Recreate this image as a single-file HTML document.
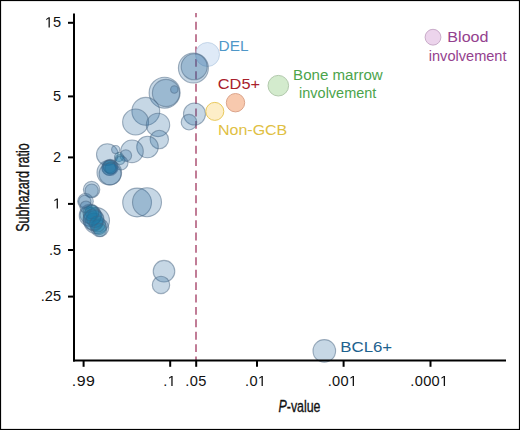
<!DOCTYPE html>
<html><head><meta charset="utf-8"><style>
html,body{margin:0;padding:0;background:#fff;}
body{width:520px;height:430px;overflow:hidden;}
svg{display:block;}
text{font-family:"Liberation Sans",sans-serif;}
</style></head><body>
<svg width="520" height="430" viewBox="0 0 520 430">
<rect x="0" y="0" width="520" height="430" fill="#fff"/>
<rect x="0.5" y="0.5" width="519" height="429" fill="none" stroke="#000" stroke-width="1.2"/>
<line x1="196" y1="13" x2="196" y2="360" stroke="#ad5274" stroke-width="1.5" stroke-dasharray="7.9 4.5" stroke-dashoffset="3.65"/>
<circle cx="207.5" cy="54.5" r="12" fill="#c9dcf2" fill-opacity="0.6" stroke="#a9c2dc" stroke-opacity="0.6" stroke-width="1"/>
<g fill="#23649b" fill-opacity="0.26" stroke="#4a6682" stroke-opacity="0.5" stroke-width="1.1">
<circle cx="193.4" cy="68" r="15"/><circle cx="194.2" cy="66.8" r="13"/><circle cx="164.6" cy="92.7" r="15.5"/><circle cx="166" cy="93" r="13.6"/><circle cx="174.3" cy="89.5" r="3.7"/><circle cx="194.5" cy="114" r="11"/><circle cx="189" cy="122.2" r="7.8"/><circle cx="145.8" cy="111.3" r="13.9"/><circle cx="135.6" cy="122" r="13"/><circle cx="158" cy="124.9" r="11.7"/><circle cx="159.3" cy="139.5" r="9.2"/><circle cx="147.5" cy="147" r="10.8"/><circle cx="132" cy="151.3" r="11.3"/><circle cx="107.3" cy="154.6" r="10.8"/><circle cx="115.7" cy="149.6" r="4.1"/><circle cx="125.8" cy="155.5" r="5.8"/><circle cx="119" cy="157" r="4.5" fill="#0a7aa8"/><circle cx="120" cy="159.5" r="5" fill="#0a7aa8"/><circle cx="121" cy="163" r="7"/><circle cx="110.1" cy="167.4" r="8"/><circle cx="109.5" cy="166.5" r="6.5" fill="#0a7aa8"/><circle cx="111" cy="168" r="6" fill="#0a7aa8"/><circle cx="110.5" cy="167" r="7" fill="#0a7aa8"/><circle cx="109" cy="168" r="7.2" fill="#0a7aa8"/><circle cx="109.3" cy="172.6" r="12.3"/><circle cx="110.1" cy="173.9" r="11"/><circle cx="91.6" cy="189.6" r="8.2"/><circle cx="91.7" cy="190.6" r="6.6"/><circle cx="85.5" cy="201.3" r="7.8"/><circle cx="84.8" cy="201.5" r="6.2"/><circle cx="90.2" cy="215.4" r="11"/><circle cx="96.5" cy="220.6" r="13"/><circle cx="88.4" cy="214.9" r="8.3" fill="#0a7aa8"/><circle cx="92" cy="212" r="7" fill="#0a7aa8"/><circle cx="94" cy="222" r="9" fill="#0a7aa8"/><circle cx="99.7" cy="227.7" r="9"/><circle cx="99.2" cy="227.3" r="7.3" fill="#0a7aa8"/><circle cx="86" cy="207" r="6"/><circle cx="92.5" cy="216" r="9" fill="#0a7aa8"/><circle cx="95" cy="219" r="8.5" fill="#0a7aa8"/><circle cx="91" cy="213" r="8" fill="#0a7aa8"/><circle cx="97.5" cy="224" r="8" fill="#0a7aa8"/><circle cx="93.5" cy="219.5" r="10.5"/><circle cx="100" cy="230" r="6.5" fill="#0a7aa8"/><circle cx="137.1" cy="202.5" r="14.4"/><circle cx="147" cy="202.2" r="14.5"/><circle cx="164" cy="271.2" r="10.8"/><circle cx="161" cy="284.9" r="8.7"/><circle cx="324.3" cy="350.9" r="11.3"/>
</g>
<circle cx="214.8" cy="111.4" r="9" fill="#fdeec8" stroke="#e9c95c" stroke-width="1"/><circle cx="235.5" cy="102.7" r="9.2" fill="#f8c9ae" stroke="#dca58c" stroke-width="1"/><circle cx="278.3" cy="85.7" r="10.3" fill="#d3ebcd" stroke="#b2c9ac" stroke-width="1"/><circle cx="433" cy="37.2" r="7.9" fill="#ecd4ec" stroke="#c9abc9" stroke-width="1"/>
<g stroke="#000" stroke-width="2">
<line x1="74" y1="13.5" x2="74" y2="361.5"/>
<line x1="73" y1="360.5" x2="506" y2="360.5"/>
<line x1="68" y1="22.8" x2="74" y2="22.8"/><line x1="68" y1="96.4" x2="74" y2="96.4"/><line x1="68" y1="157.4" x2="74" y2="157.4"/><line x1="68" y1="203.9" x2="74" y2="203.9"/><line x1="68" y1="250" x2="74" y2="250"/><line x1="68" y1="296.6" x2="74" y2="296.6"/><line x1="83.6" y1="360" x2="83.6" y2="366.8"/><line x1="170.2" y1="360" x2="170.2" y2="366.8"/><line x1="196.2" y1="360" x2="196.2" y2="366.8"/><line x1="257" y1="360" x2="257" y2="366.8"/><line x1="343.6" y1="360" x2="343.6" y2="366.8"/><line x1="430.5" y1="360" x2="430.5" y2="366.8"/>
</g>
<g font-size="14.6" fill="#111">
<text class="tk" x="61.1" y="27.4" text-anchor="end"> 5</text><text class="tk" x="61.1" y="101.0" text-anchor="end">5</text><text class="tk" x="61.1" y="162.0" text-anchor="end">2</text><text class="tk" x="61.1" y="208.5" text-anchor="end"> </text><text class="tk" x="61.1" y="254.6" text-anchor="end">.5</text><text class="tk" x="61.1" y="301.20000000000005" text-anchor="end">.25</text><text class="tk" transform="translate(83.5,386) scale(1.09,1)" text-anchor="middle" letter-spacing="0.35">.99</text><text class="tk" transform="translate(169.7,386) scale(1.0,1)" text-anchor="middle" letter-spacing="0.35">. </text><text class="tk" transform="translate(195.99999999999997,386) scale(1.0,1)" text-anchor="middle" letter-spacing="0.35">.05</text><text class="tk" transform="translate(255.7,386) scale(1.0,1)" text-anchor="middle" letter-spacing="0.35">.0 </text><text class="tk" transform="translate(342.6,386) scale(1.0,1)" text-anchor="middle" letter-spacing="0.35">.00 </text><text class="tk" transform="translate(429.4,386) scale(1.0,1)" text-anchor="middle" letter-spacing="0.35">.000 </text>
</g>
<g fill="#111"><path transform=" translate(44.866,27.400) scale(0.007129,-0.007129)" d="M515 0L515 1237L197 1010L197 1180L530 1409L696 1409L696 0Z"/><path transform=" translate(52.975,208.500) scale(0.007129,-0.007129)" d="M515 0L515 1237L197 1010L197 1180L530 1409L696 1409L696 0Z"/><path transform="translate(169.7,386) scale(1.0,1) translate(-2.047,0.000) scale(0.007129,-0.007129)" d="M515 0L515 1237L197 1010L197 1180L530 1409L696 1409L696 0Z"/><path transform="translate(255.7,386) scale(1.0,1) translate(2.188,0.000) scale(0.007129,-0.007129)" d="M515 0L515 1237L197 1010L197 1180L530 1409L696 1409L696 0Z"/><path transform="translate(342.6,386) scale(1.0,1) translate(6.422,0.000) scale(0.007129,-0.007129)" d="M515 0L515 1237L197 1010L197 1180L530 1409L696 1409L696 0Z"/><path transform="translate(429.4,386) scale(1.0,1) translate(10.656,0.000) scale(0.007129,-0.007129)" d="M515 0L515 1237L197 1010L197 1180L530 1409L696 1409L696 0Z"/></g>
<text transform="translate(218.6,51.3) scale(1.014,1)" text-anchor="start" fill="#4f97c8" font-size="15.2">DEL</text><text transform="translate(217.8,89.4) scale(1.075,1)" text-anchor="start" fill="#a8202c" font-size="15.2">CD5+</text><text transform="translate(218.0,135) scale(1.052,1)" text-anchor="start" fill="#dfc043" font-size="15.2">Non-GCB</text><text transform="translate(337.9,79.8) scale(0.993,1)" text-anchor="middle" fill="#4ba44b" font-size="15.2">Bone marrow</text><text transform="translate(337.7,97.8) scale(0.953,1)" text-anchor="middle" fill="#4ba44b" font-size="15.2">involvement</text><text transform="translate(467.9,42.3) scale(1.06,1)" text-anchor="middle" fill="#94418e" font-size="15.2">Blood</text><text transform="translate(467.65,61.4) scale(0.96,1)" text-anchor="middle" fill="#94418e" font-size="15.2">involvement</text><text transform="translate(340.25,351.6) scale(1.108,1)" text-anchor="start" fill="#1d628e" font-size="15.2">BCL6+</text>
<text transform="translate(28.8,187.5) rotate(-90)" text-anchor="middle" font-size="17.5" fill="#111" stroke="#111" stroke-width="0.35" textLength="88.6" lengthAdjust="spacingAndGlyphs">Subhazard ratio</text>
<text x="278.5" y="411.7" font-size="17.2" fill="#111" stroke="#111" stroke-width="0.35" textLength="42" lengthAdjust="spacingAndGlyphs"><tspan font-style="italic">P</tspan>-value</text>
</svg>
</body></html>
